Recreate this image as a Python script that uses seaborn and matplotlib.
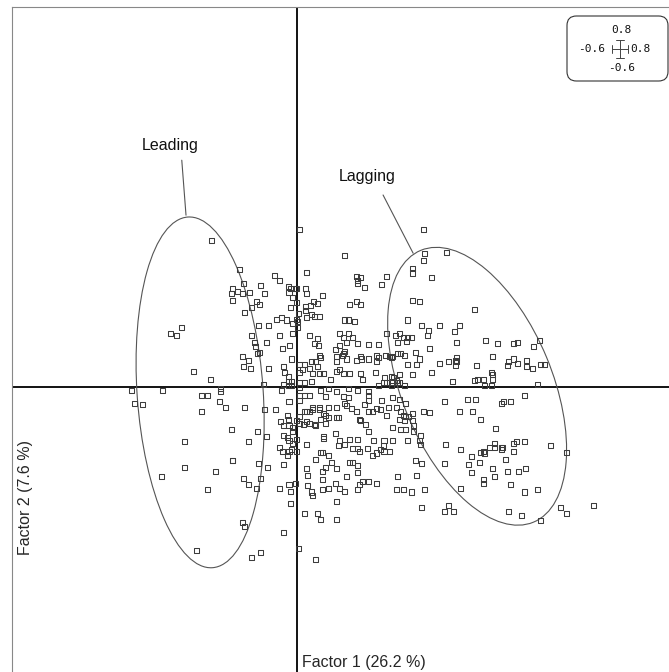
import numpy as np
import pandas as pd
import matplotlib
matplotlib.use("Agg")
import matplotlib.pyplot as plt
import seaborn as sns
from matplotlib.patches import Ellipse, FancyBboxPatch
from matplotlib.lines import Line2D
import matplotlib.transforms as mtransforms

# ---- data (factor scores) ----
factor1 = [
 -0.181,-0.123,-0.047,-0.038,-0.113,-0.077,-0.138,-0.126,-0.115,-0.102,-0.070,-0.140,-0.138,-0.087,-0.079,-0.096,-0.111,-0.081,-0.060,-0.043,-0.034,-0.245,-0.268,-0.257,-0.096,-0.038,
 0.006,0.268,0.272,0.100,0.270,0.021,0.245,0.245,0.126,0.136,0.128,0.191,0.287,0.128,0.179,0.143,-0.019,-0.013,-0.004,-0.017,-0.002,0.019,0.021,-0.009,0.055,-0.002,0.036,0.043,0.111,0.126,0.134,0.245,0.260,-0.013,0.019,0.028,0.019,0.004,0.030,0.021,0.038,0.047,-0.023,-0.002,0.002,-0.009,0.002,0.102,0.109,0.123,0.234,0.264,0.279,0.302,0.277,-0.009,0.026,0.043,0.091,0.098,0.109,0.117,0.191,0.209,0.217,0.226,0.234,0.243,
 0.317,0.377,0.345,0.334,
 -0.091,-0.064,-0.089,-0.030,-0.083,-0.079,-0.115,-0.104,-0.113,-0.098,-0.060,-0.028,-0.221,-0.183,-0.072,-0.028,-0.351,-0.287,-0.162,-0.162,-0.204,-0.191,-0.034,-0.345,-0.328,-0.164,-0.153,-0.111,-0.070,-0.045,-0.204,-0.036,-0.028,-0.140,-0.085,-0.064,-0.028,-0.240,-0.104,-0.038,-0.030,-0.138,
 -0.015,0.038,0.045,0.081,0.091,0.106,0.128,0.151,0.174,0.213,0.232,0.281,0.098,0.102,0.134,-0.011,0.047,0.051,0.083,0.096,0.106,0.126,0.138,0.151,0.168,0.170,0.174,0.189,0.196,0.200,0.204,0.213,0.221,0.228,0.251,0.260,
 -0.026,0.006,0.011,0.017,0.026,0.030,0.040,0.043,0.047,0.057,0.034,0.006,0.083,0.083,0.091,0.098,0.111,0.134,0.140,0.166,0.187,0.200,0.206,0.211,0.217,0.236,0.255,0.287,0.304,0.245,
 -0.019,-0.019,-0.019,-0.011,-0.011,0.006,0.006,0.017,0.030,0.072,0.185,0.191,0.174,0.200,0.204,0.213,0.219,0.228,
 0.049,0.068,0.085,0.109,0.128,0.153,0.153,0.006,0.015,0.026,0.060,0.098,0.109,-0.017,0.006,0.100,0.143,0.151,0.179,0.204,0.219,0.230,0.313,
 0.034,0.032,0.026,0.021,0.015,0.047,0.047,0.066,0.083,0.106,0.115,0.126,0.151,0.160,0.170,0.177,0.191,0.194,0.211,0.221,0.226,0.230,0.238,0.245,0.270,0.281,
 0.057,0.060,0.006,-0.002,0.068,0.085,0.089,0.051,0.132,0.136,0.217,0.228,0.245,0.247,-0.021,-0.019,0.006,0.013,0.021,0.026,0.038,0.040,0.060,-0.017,-0.009,0.145,0.204,0.221,0.230,0.151,-0.009,0.081,0.247,0.262,
 0.057,0.057,0.091,0.111,0.128,0.162,0.185,0.204,0.236,0.260,-0.021,-0.017,-0.009,-0.002,0.021,0.089,0.102,0.119,0.132,0.149,0.128,0.183,0.177,0.185,0.196,0.262,-0.011,-0.017,-0.002,0.049,0.055,0.066,0.160,0.170,0.040,-0.021,
 0.340,0.400,0.426,0.460,0.468,0.502,0.515,0.323,0.340,0.336,0.340,0.338,0.381,0.415,0.447,0.449,0.460,0.468,0.489,0.489,0.500,0.517,0.526,0.413,0.415,0.415,0.377,0.383,0.396,0.330,0.398,0.413,0.511,0.483,0.362,0.379,0.440,0.434,0.455,
 0.345,0.374,0.391,0.423,0.466,0.460,0.483,0.421,0.409,0.421,0.434,0.438,0.434,0.396,0.391,0.398,0.460,0.540,0.347,0.372,0.443,0.574,0.315,
 -0.240,-0.289,-0.174,-0.138,-0.081,-0.062,-0.028,-0.113,-0.104,-0.077,-0.087,-0.191,-0.038,-0.115,-0.111,-0.028,-0.213,-0.096,-0.077,
 0.074,0.111,0.119,0.128,0.021,0.023,0.060,0.055,0.083,0.128,0.106,0.055,-0.017,-0.004,0.023,0.081,0.132,0.140,0.153,0.168,-0.013,0.030,0.032,0.055,0.066,0.091,0.102,0.128,-0.013,0.085,0.017,0.043,0.051,0.083,0.004,0.040,
 0.213,0.255,0.211,0.226,0.243,0.272,0.253,0.264,0.264,0.313,0.313,
 0.364,0.389,0.415,0.372,0.396,0.396,0.421,0.447,0.472,0.485,0.455,0.483,0.511,0.347,0.323,0.332,0.449,0.477,0.517,0.560,0.574,0.630,
]
factor2 = [
 0.313,0.251,0.238,0.226,0.221,0.217,0.209,0.204,0.200,0.202,0.200,0.200,0.185,0.183,0.177,0.170,0.160,0.132,0.132,0.145,0.149,0.128,0.115,0.109,0.109,0.111,
 0.336,0.336,0.285,0.281,0.270,0.245,0.253,0.243,0.236,0.234,0.228,0.236,0.234,0.221,0.219,0.213,0.215,0.209,0.209,0.202,0.211,0.209,0.200,0.191,0.196,0.181,0.183,0.179,0.177,0.183,0.177,0.185,0.183,0.170,0.172,0.174,0.164,0.157,0.155,0.149,0.151,0.151,0.143,0.145,0.140,0.136,0.128,0.143,0.143,0.140,0.143,0.132,0.121,0.132,0.111,0.115,0.109,0.104,0.115,0.106,0.115,0.106,0.115,0.109,0.115,0.106,0.106,0.106,
 0.287,0.166,0.132,0.119,
 0.096,0.096,0.087,0.083,0.072,0.074,0.066,0.057,0.043,0.040,0.040,0.043,0.034,0.017,0.006,0.006,-0.006,-0.006,-0.002,-0.009,-0.017,-0.017,-0.006,-0.034,-0.036,-0.030,-0.043,-0.043,-0.047,-0.047,-0.051,-0.072,-0.081,-0.089,-0.094,-0.104,-0.102,-0.115,-0.115,-0.128,-0.136,-0.157,
 0.089,0.094,0.089,0.081,0.089,0.096,0.094,0.091,0.091,0.096,0.098,0.083,0.072,0.077,0.066,0.060,0.068,0.064,0.066,0.068,0.060,0.057,0.060,0.060,0.068,0.055,0.064,0.068,0.066,0.064,0.066,0.072,0.072,0.068,0.074,0.060,
 0.032,0.049,0.038,0.049,0.040,0.055,0.055,0.043,0.030,0.030,0.030,0.032,0.055,0.034,0.038,0.030,0.030,0.030,0.017,0.032,0.021,0.023,0.021,0.015,0.026,0.049,0.049,0.032,0.051,0.026,
 0.023,0.013,0.004,0.013,0.004,0.009,0.000,0.009,0.013,0.017,0.009,0.009,0.004,0.004,0.009,0.009,0.009,0.004,
 -0.006,-0.002,-0.009,-0.002,-0.006,-0.009,-0.017,-0.017,-0.017,-0.017,-0.019,-0.019,-0.021,-0.030,-0.028,-0.034,-0.036,-0.028,-0.028,-0.021,-0.026,-0.034,-0.030,
 -0.043,-0.047,-0.051,-0.051,-0.051,-0.043,-0.047,-0.043,-0.043,-0.038,-0.045,-0.051,-0.051,-0.051,-0.045,-0.047,-0.060,-0.043,-0.043,-0.051,-0.060,-0.062,-0.062,-0.055,-0.051,-0.053,
 -0.055,-0.060,-0.062,-0.070,-0.064,-0.064,-0.064,-0.068,-0.068,-0.070,-0.068,-0.070,-0.070,-0.081,-0.060,-0.068,-0.077,-0.079,-0.072,-0.077,-0.079,-0.081,-0.077,-0.081,-0.085,-0.079,-0.085,-0.089,-0.089,-0.094,-0.094,-0.098,-0.094,-0.102,
 -0.104,-0.109,-0.113,-0.111,-0.111,-0.113,-0.113,-0.113,-0.113,-0.113,-0.106,-0.113,-0.119,-0.111,-0.121,-0.123,-0.121,-0.130,-0.136,-0.130,-0.130,-0.123,-0.132,-0.136,-0.136,-0.121,-0.132,-0.136,-0.136,-0.138,-0.138,-0.145,-0.145,-0.140,-0.153,-0.145,
 0.096,0.100,0.094,0.094,0.096,0.087,0.100,0.055,0.064,0.057,0.055,0.047,0.047,0.066,0.047,0.055,0.060,0.051,0.057,0.043,0.040,0.049,0.049,0.032,0.026,0.017,0.015,0.017,0.017,0.013,0.004,0.004,0.006,-0.017,-0.026,-0.026,-0.030,-0.034,-0.030,
 -0.051,-0.051,-0.068,-0.087,-0.115,-0.119,-0.115,-0.119,-0.128,-0.128,-0.128,-0.128,-0.132,-0.136,-0.138,-0.140,-0.136,-0.123,-0.132,-0.147,-0.153,-0.138,-0.121,
 -0.170,-0.191,-0.179,-0.157,-0.162,-0.170,-0.164,-0.194,-0.206,-0.194,-0.215,-0.217,-0.215,-0.287,-0.296,-0.309,-0.347,-0.362,-0.351,
 -0.160,-0.160,-0.160,-0.166,-0.174,-0.187,-0.170,-0.179,-0.174,-0.181,-0.191,-0.196,-0.206,-0.204,-0.209,-0.204,-0.206,-0.200,-0.200,-0.204,-0.221,-0.223,-0.230,-0.217,-0.215,-0.215,-0.221,-0.217,-0.247,-0.243,-0.268,-0.268,-0.281,-0.281,-0.343,-0.366,
 -0.189,-0.187,-0.217,-0.217,-0.223,-0.217,-0.157,-0.162,-0.255,-0.264,-0.162,
 -0.164,-0.160,-0.172,-0.181,-0.196,-0.204,-0.189,-0.179,-0.179,-0.172,-0.206,-0.223,-0.217,-0.215,-0.251,-0.264,-0.264,-0.272,-0.283,-0.257,-0.268,-0.251,
]

# group ellipses (centre, semi-axes, orientation)
groups = ["Leading", "Lagging"]
ell_x = [-0.206, 0.383]
ell_y = [-0.011, 0.002]
ell_a = [0.374, 0.313]
ell_b = [0.134, 0.160]
ell_angle = [94.0, 112.5]
# label positions and leader-line ends
lab_x = [-0.270, 0.149]
lab_y = [0.515, 0.449]
lead_from = [(-0.245, 0.483), (0.183, 0.409)]
lead_to = [(-0.236, 0.366), (0.247, 0.285)]

xlim = (-0.606, 0.791)
ylim = (-0.606, 0.809)
scale_x = ("-0.6", "0.8")
scale_y = ("-0.6", "0.8")
xlabel = "Factor 1 (26.2 %)"
ylabel = "Factor 2 (7.6 %)"

sns.set_style("white")
plt.rcParams["font.family"] = ["Liberation Sans", "DejaVu Sans"]

W, H = 669, 672
fig = plt.figure(figsize=(W / 100, H / 100), dpi=100)
ax = fig.add_axes([12 / W, 0, 1 - 12 / W, 1 - 7 / H])
ax.set_xlim(*xlim)
ax.set_ylim(*ylim)

ax.axhline(0, color="black", lw=1.3, zorder=1)
ax.axvline(0, color="black", lw=1.3, zorder=1)

df = pd.DataFrame({"f1": factor1, "f2": factor2})
sns.scatterplot(data=df, x="f1", y="f2", marker="s", s=13, facecolor="none",
                edgecolor="#3c3c3c", linewidth=0.75, ax=ax, legend=False, zorder=3)

for i, g in enumerate(groups):
    e = Ellipse((ell_x[i], ell_y[i]), 2 * ell_a[i], 2 * ell_b[i], angle=ell_angle[i],
                fc="none", ec="#555555", lw=0.8, zorder=2)
    ax.add_patch(e)
    ax.plot([lead_from[i][0], lead_to[i][0]], [lead_from[i][1], lead_to[i][1]],
            color="#555555", lw=0.8, zorder=2)
    ax.text(lab_x[i], lab_y[i], g, ha="center", va="center", fontsize=11.5, color="#111111")

ax.set_xticks([])
ax.set_yticks([])
ax.set_xlabel("")
ax.set_ylabel("")
for name, sp in ax.spines.items():
    sp.set_color("#888888")
    sp.set_linewidth(0.8)
    if name in ("right", "bottom"):
        sp.set_visible(False)

tr = mtransforms.blended_transform_factory(ax.transData, ax.transAxes)
ax.text(0.011, 5 / 665, xlabel, transform=tr, ha="left", va="baseline", fontsize=11.5)
tr2 = mtransforms.blended_transform_factory(fig.transFigure, ax.transData)
ax.text(26 / W, -0.235, ylabel, transform=tr2, rotation=90, ha="center", va="center", fontsize=11.5)

# scale box (top right)
def fx(px):
    return px / W
def fy(py):
    return 1 - py / H

box = FancyBboxPatch((fx(567), fy(81)), fx(668) - fx(567), fy(16) - fy(81),
                     boxstyle="round,pad=0,rounding_size=0.014", transform=fig.transFigure,
                     fc="white", ec="#333333", lw=0.8)
fig.patches.append(box)
mono = dict(family="DejaVu Sans Mono", fontsize=8, color="#111111")
fig.text(fx(621), fy(30), scale_y[1], ha="center", va="center", **mono)
fig.text(fx(622), fy(68), scale_y[0], ha="center", va="center", **mono)
fig.text(fx(605), fy(49), scale_x[0], ha="right", va="center", **mono)
fig.text(fx(630), fy(49), scale_x[1], ha="left", va="center", **mono)
cx, cy = 620, 49
lines = [((612, 628), (cy, cy)), ((cx, cx), (40, 58)),
         ((612, 612), (cy - 4, cy + 4)), ((628, 628), (cy - 4, cy + 4)),
         ((cx - 4, cx + 4), (40, 40)), ((cx - 4, cx + 4), (58, 58))]
for xs, ys in lines:
    fig.add_artist(Line2D([fx(xs[0]), fx(xs[1])], [fy(ys[0]), fy(ys[1])],
                          transform=fig.transFigure, color="#444444", lw=0.7))

fig.savefig("out.png", dpi=100)
